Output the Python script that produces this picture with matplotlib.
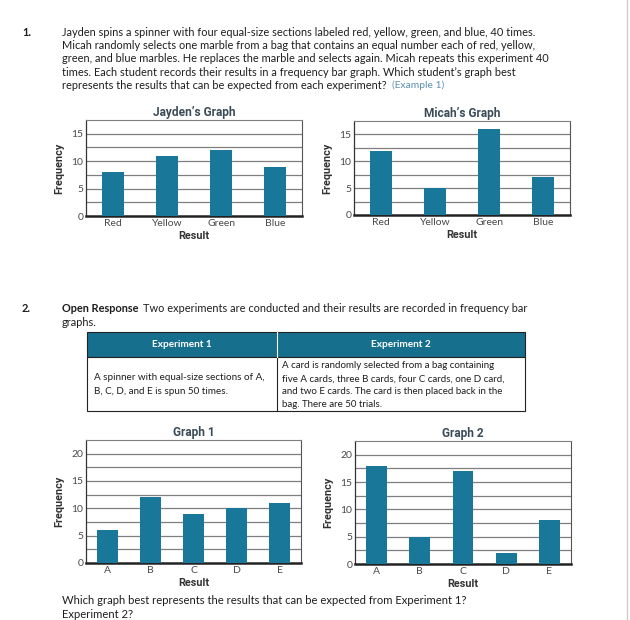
import matplotlib.pyplot as plt
from matplotlib.patches import Rectangle
from matplotlib.lines import Line2D

W, H = 630, 620

colors4 = ['Red', 'Yellow', 'Green', 'Blue']
jayden = [8, 11, 12, 9]
micah = [12, 5, 16, 7]
letters = ['A', 'B', 'C', 'D', 'E']
graph1 = [6, 12, 9, 10, 11]
graph2 = [18, 5, 17, 2, 8]

BAR = '#19779a'
HEAD = '#176f8e'
TITLE = '#3b4b58'
TXT = '#1e1e1e'
BODY_FONT = ['Lato', 'DejaVu Sans']
TICK_FONT = ['Lato', 'DejaVu Sans']

fig = plt.figure(figsize=(W / 100, H / 100), dpi=100)
fig.patch.set_facecolor('white')


def fx(x):
    return x / W


def fy(y):
    return 1 - y / H


def put(x, y, s, **kw):
    kw.setdefault('fontsize', 7.9)
    kw.setdefault('color', TXT)
    kw.setdefault('family', BODY_FONT)
    kw.setdefault('va', 'center')
    fig.text(fx(x), fy(y), s, **kw)


def bar_chart(box, cats, vals, ymax, title, width):
    left, top, right, bottom = box
    ax = fig.add_axes([fx(left), fy(bottom), fx(right - left), (bottom - top) / H])
    x = range(len(cats))
    ax.bar(x, vals, width=width, color=BAR, zorder=3)
    ax.set_xlim(-0.5, len(cats) - 0.5)
    ax.set_ylim(0, ymax)
    g = 2.5
    while g < ymax:
        ax.axhline(g, color='#7f7f7f', lw=0.9, zorder=1)
        g += 2.5
    ax.set_yticks(range(0, int(ymax) + 1, 5))
    ax.set_xticks(list(x))
    ax.set_xticklabels(cats)
    ax.tick_params(length=0, labelsize=7.5, labelcolor='#4a4a4a', pad=2)
    ax.spines['top'].set_color('#7f7f7f')
    ax.spines['right'].set_color('#555555')
    ax.spines['left'].set_color('#333333')
    ax.spines['bottom'].set_color('#222222')
    ax.spines['bottom'].set_linewidth(1.8)
    ax.spines['left'].set_linewidth(0.9)
    ax.set_title(title, fontsize=8.6, fontweight='bold', color=TITLE, pad=3,
                 family=['Roboto', 'DejaVu Sans'])
    ax.set_xlabel('Result', fontsize=7.8, fontweight='bold', color='#333333', labelpad=2,
                  family=['Roboto', 'DejaVu Sans'])
    ax.set_ylabel('Frequency', fontsize=7.8, fontweight='bold', color='#333333', labelpad=5,
                  family=['Roboto', 'DejaVu Sans'])
    for lab in ax.get_xticklabels() + ax.get_yticklabels():
        lab.set_family(TICK_FONT)
    return ax


# question 1
put(22, 32, '1.', fontweight='bold')
q1 = ['Jayden spins a spinner with four equal-size sections labeled red, yellow, green, and blue, 40 times.',
      'Micah randomly selects one marble from a bag that contains an equal number each of red, yellow,',
      'green, and blue marbles. He replaces the marble and selects again. Micah repeats this experiment 40',
      'times. Each student records their results in a frequency bar graph. Which student\u2019s graph best']
for i, line in enumerate(q1):
    put(62, 32 + i * 13.4, line)
put(62, 85.6, 'represents the results that can be expected from each experiment?')
put(392, 85.6, '(Example 1)', color='#5d8fb0', fontsize=7.4)

bar_chart((86, 120, 302, 216), colors4, jayden, 17.5, 'Jayden\u2019s Graph', 0.4)
bar_chart((354, 121, 570, 215), colors4, micah, 17.5, 'Micah\u2019s Graph', 0.4)

# question 2
put(22, 309, '2.', fontweight='bold')
put(62, 309, 'Open Response', fontweight='bold')
put(143, 309, 'Two experiments are conducted and their results are recorded in frequency bar')
put(62, 322, 'graphs.')

t_left, t_mid, t_right = 87, 277, 525
t_top, t_head, t_bot = 332, 357, 411
fig.patches.append(Rectangle((fx(t_left), fy(t_head)), fx(t_right - t_left), (t_head - t_top) / H,
                             transform=fig.transFigure, facecolor=HEAD, edgecolor='#222222', lw=0.8))
fig.patches.append(Rectangle((fx(t_left), fy(t_bot)), fx(t_right - t_left), (t_bot - t_head) / H,
                             transform=fig.transFigure, facecolor='white', edgecolor='#222222', lw=0.8))
fig.lines.append(Line2D([fx(t_mid), fx(t_mid)], [fy(t_top), fy(t_bot)],
                        transform=fig.transFigure, color='#222222', lw=0.8))
fig.lines.append(Line2D([fx(t_mid), fx(t_mid)], [fy(t_top), fy(t_head)],
                        transform=fig.transFigure, color='white', lw=0.8))
put((t_left + t_mid) / 2, 345, 'Experiment 1', color='white', fontweight='bold', ha='center', fontsize=7.2)
put((t_mid + t_right) / 2, 345, 'Experiment 2', color='white', fontweight='bold', ha='center', fontsize=7.2)
put(94, 378, 'A spinner with equal-size sections of A,', fontsize=7.1)
put(94, 391, 'B, C, D, and E is spun 50 times.', fontsize=7.1)
exp2 = ['A card is randomly selected from a bag containing',
        'five A cards, three B cards, four C cards, one D card,',
        'and two E cards. The card is then placed back in the',
        'bag. There are 50 trials.']
for i, line in enumerate(exp2):
    put(282, 366 + i * 12.9, line, fontsize=7)

bar_chart((86, 440, 301, 563), letters, graph1, 22.5, 'Graph 1', 0.48)
bar_chart((355, 441, 571, 564), letters, graph2, 22.5, 'Graph 2', 0.48)

put(62, 601, 'Which graph best represents the results that can be expected from Experiment 1?', fontsize=8.1)
put(62, 615, 'Experiment 2?', fontsize=8.1)

# page edge on the right
fig.lines.append(Line2D([fx(627), fx(627)], [0, 1], transform=fig.transFigure, color='#cccccc', lw=1))

fig.savefig('out.png', dpi=100, facecolor='white')
